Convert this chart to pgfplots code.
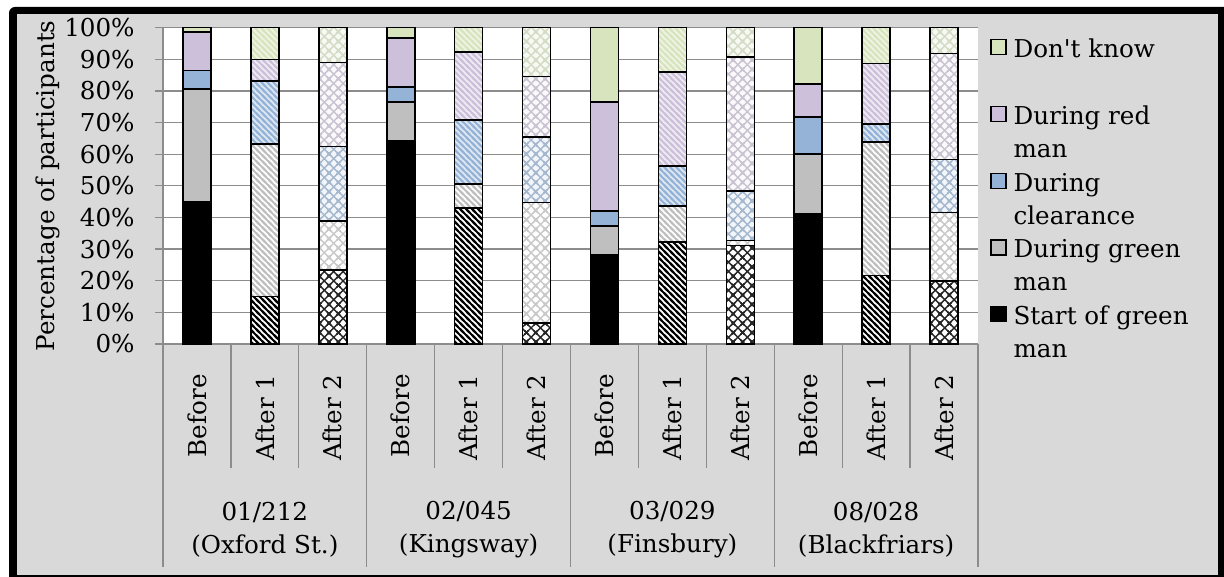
\documentclass[border=0pt]{standalone}
\usepackage{fontspec}
\setmainfont{DejaVu Serif}
\usepackage{pgfplots}
\pgfplotsset{compat=1.18}
\usepackage{pgfplotstable}
\usetikzlibrary{patterns}

\definecolor{bg}{HTML}{D9D9D9}
\definecolor{gridc}{HTML}{8C8C8C}
\definecolor{cgray}{HTML}{BFBFBF}
\definecolor{cblue}{HTML}{95B3D7}
\definecolor{cpurp}{HTML}{CCC0DA}
\definecolor{cgreen}{HTML}{D7E4BD}
\colorlet{hblack}{black!85}
\colorlet{hgray}{cgray!85!white}
\colorlet{hblue}{cblue!75!gray!80!white}
\colorlet{hpurp}{cpurp!75!gray!75!white}
\colorlet{hgreen}{cgreen!75!gray!70!white}

\pgfdeclarepatternformonly{nwstripes}{\pgfqpoint{-1pt}{-1pt}}{\pgfqpoint{4pt}{4pt}}{\pgfqpoint{3pt}{3pt}}{%
  \pgfsetlinewidth{1pt}%
  \pgfpathmoveto{\pgfqpoint{-1pt}{4pt}}\pgfpathlineto{\pgfqpoint{4pt}{-1pt}}%
  \pgfpathmoveto{\pgfqpoint{-1pt}{1pt}}\pgfpathlineto{\pgfqpoint{1pt}{-1pt}}%
  \pgfpathmoveto{\pgfqpoint{2pt}{4pt}}\pgfpathlineto{\pgfqpoint{4pt}{2pt}}%
  \pgfusepath{stroke}}
\pgfdeclarepatternformonly{xhatch}{\pgfqpoint{-1pt}{-1pt}}{\pgfqpoint{5.7pt}{5.7pt}}{\pgfqpoint{4.7pt}{4.7pt}}{%
  \pgfsetlinewidth{0.7pt}%
  \pgfpathmoveto{\pgfqpoint{-1pt}{-1pt}}\pgfpathlineto{\pgfqpoint{5.7pt}{5.7pt}}%
  \pgfpathmoveto{\pgfqpoint{3.7pt}{-1pt}}\pgfpathlineto{\pgfqpoint{5.7pt}{1pt}}%
  \pgfpathmoveto{\pgfqpoint{-1pt}{3.7pt}}\pgfpathlineto{\pgfqpoint{1pt}{5.7pt}}%
  \pgfpathmoveto{\pgfqpoint{-1pt}{5.7pt}}\pgfpathlineto{\pgfqpoint{5.7pt}{-1pt}}%
  \pgfpathmoveto{\pgfqpoint{-1pt}{1pt}}\pgfpathlineto{\pgfqpoint{1pt}{-1pt}}%
  \pgfpathmoveto{\pgfqpoint{3.7pt}{5.7pt}}\pgfpathlineto{\pgfqpoint{5.7pt}{3.7pt}}%
  \pgfusepath{stroke}}

% columns: s = Start of green man, g = During green man, c = During clearance,
% r = During red man, d = Don't know
\pgfplotstableread{
x s g c r d
0 45.0 35.5 6.0 12.1 1.4
3 64.3 12.2 4.7 15.5 3.3
6 28.1 9.2 4.7 34.5 23.5
9 41.2 18.9 11.7 10.4 17.8
}\before
\pgfplotstableread{
x s g c r d
1 15.0 48.2 20.0 6.7 10.1
4 43.0 7.6 20.2 21.5 7.7
7 32.3 11.3 12.7 29.6 14.1
10 21.6 42.2 5.7 19.1 11.4
}\afterone
\pgfplotstableread{
x s g c r d
2 23.3 15.6 23.5 26.6 11.0
5 6.6 38.1 20.7 19.1 15.5
8 31.1 1.6 15.7 42.3 9.3
11 19.9 21.7 16.7 33.5 8.2
}\aftertwo

\tikzset{
  solidbar/.style={fill=#1, draw=black, line width=0.8pt},
  stripebar/.style 2 args={fill=#1, draw=black, line width=0.8pt,
    postaction={pattern=nwstripes, pattern color=#2}},
  hatchbar/.style 2 args={fill=#1, draw=black, line width=0.8pt,
    postaction={pattern=xhatch, pattern color=#2}},
}

\pgfplotsset{
  common/.style={
    scale only axis, width=407.5pt, height=158.2pt,
    xmin=-0.5, xmax=11.5, ymin=0, ymax=100,
    enlargelimits=false,
    ybar stacked, bar width=14pt,
    at={(81.5pt,-172pt)}, anchor=south west,
  },
}

\begin{document}
\begin{tikzpicture}[font=\fontsize{12.3pt}{16.5pt}\selectfont]
\path[use as bounding box] (0,0) rectangle (612pt,-288.5pt);
\fill[white] (0,0) rectangle (612pt,-288.5pt);
\fill[black, rounded corners=3pt] (4.5pt,-3.5pt) rectangle (625pt,-300pt);
\fill[bg] (8.5pt,-7pt) rectangle (609pt,-287.5pt);

\begin{axis}[common,
  axis background/.style={fill=white},
  axis lines=left,
  axis line style={-, draw=gridc, line width=0.65pt},
  ymajorgrids, grid style={draw=gridc, line width=0.65pt},
  ytick={0,10,...,100},
  yticklabels={0\%,10\%,20\%,30\%,40\%,50\%,60\%,70\%,80\%,90\%,100\%},
  tick align=outside, major tick length=4pt,
  ytick style={draw=gridc, line width=0.65pt},
  yticklabel style={inner sep=0pt, xshift=-10pt},
  xtick={0,...,11},
  xticklabels={Before,After 1,After 2,Before,After 1,After 2,Before,After 1,After 2,Before,After 1,After 2},
  xtick style={draw=none},
  xticklabel style={rotate=90, anchor=east, inner sep=0pt},
  xticklabel shift=11pt,
  ylabel={Percentage of participants},
  ylabel style={at={(axis description cs:-0.141,0.5)}, anchor=center},
  clip=false,
  reverse legend,
  legend cell align=left,
  legend style={at={(axis description cs:1.0147,0.979)}, anchor=north west,
    draw=none, fill=none, inner sep=0pt, row sep=20.3pt, column sep=3.5pt,
    nodes={inner sep=0pt}},
  legend image code/.code={\draw[#1, line width=0.6pt] (0pt,-3.6pt) rectangle (7.5pt,3.9pt);},
]
\addplot[solidbar=black] table[x=x,y=s]{\before};
\addplot[solidbar=cgray] table[x=x,y=g]{\before};
\addplot[solidbar=cblue] table[x=x,y=c]{\before};
\addplot[solidbar=cpurp] table[x=x,y=r]{\before};
\addplot[solidbar=cgreen] table[x=x,y=d]{\before};
\legend{\parbox[t]{4cm}{\strut Start of green\\man\strut},
        \parbox[t]{4cm}{\strut During green\\man\strut},
        \parbox[t]{4cm}{\strut During\\clearance\strut},
        \parbox[t]{4cm}{\strut During red\\man\strut},
        \parbox[t]{4cm}{\strut Don\textquotesingle t know\\\strut}}

\pgfplotsinvokeforeach{0.5,1.5,3.5,4.5,6.5,7.5,9.5,10.5}{
  \draw[gridc, line width=0.65pt] (axis cs:#1,0) -- ++(0pt,-62pt);
}
\pgfplotsinvokeforeach{-0.5,2.5,5.5,8.5,11.5}{
  \draw[gridc, line width=0.65pt] (axis cs:#1,0) -- ++(0pt,-111.5pt);
}
\node[align=center] at (axis cs:1,0) [yshift=-93pt] {01/212\\(Oxford St.)};
\node[align=center] at (axis cs:4,0) [yshift=-93pt] {02/045\\(Kingsway)};
\node[align=center] at (axis cs:7,0) [yshift=-93pt] {03/029\\(Finsbury)};
\node[align=center] at (axis cs:10,0) [yshift=-93pt] {08/028\\(Blackfriars)};
\end{axis}

\begin{axis}[common, hide axis]
\addplot[stripebar={white}{black}] table[x=x,y=s]{\afterone};
\addplot[stripebar={white}{cgray}] table[x=x,y=g]{\afterone};
\addplot[stripebar={cblue!30!white}{cblue}] table[x=x,y=c]{\afterone};
\addplot[stripebar={cpurp!30!white}{cpurp}] table[x=x,y=r]{\afterone};
\addplot[stripebar={cgreen!40!white}{cgreen}] table[x=x,y=d]{\afterone};
\end{axis}

\begin{axis}[common, hide axis]
\addplot[hatchbar={white}{hblack}] table[x=x,y=s]{\aftertwo};
\addplot[hatchbar={white}{hgray}] table[x=x,y=g]{\aftertwo};
\addplot[hatchbar={cblue!12!white}{hblue}] table[x=x,y=c]{\aftertwo};
\addplot[hatchbar={cpurp!10!white}{hpurp}] table[x=x,y=r]{\aftertwo};
\addplot[hatchbar={cgreen!20!white}{hgreen}] table[x=x,y=d]{\aftertwo};
\end{axis}
\end{tikzpicture}
\end{document}
